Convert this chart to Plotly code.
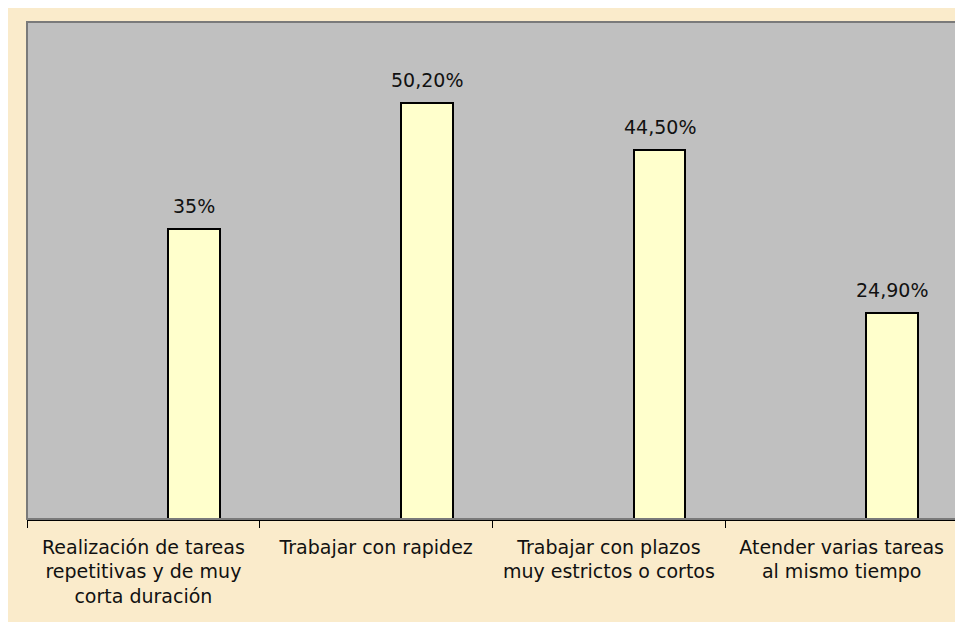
import plotly.graph_objects as go

categories = [
    "Realización de tareas<br>repetitivas y de muy<br>corta duración",
    "Trabajar con rapidez",
    "Trabajar con plazos<br>muy estrictos o cortos",
    "Atender varias tareas<br>al mismo tiempo",
]
values = [35.0, 50.2, 44.5, 24.9]
value_labels = ["35%", "50,20%", "44,50%", "24,90%"]

# the page body adds an 8px margin, figure is sized to the parchment area
W, H = 955, 614
L, T, R, B = 19, 14, 5, 103
FONT = "DejaVu Sans, Liberation Sans, Arial"
BAR_W, BAR_OFF = 0.223, 0.106
cat_px = (W - L - R) / len(categories)

fig = go.Figure()
fig.add_trace(go.Bar(
    x=categories,
    y=values,
    width=BAR_W,
    offset=BAR_OFF,
    marker=dict(color="#FFFFCC", line=dict(color="#000000", width=2)),
    hoverinfo="skip",
))

annotations = [
    dict(x=c, y=v, text=t, showarrow=False, xref="x", yref="y",
         xanchor="center", yanchor="bottom",
         xshift=(BAR_OFF + BAR_W / 2) * cat_px, yshift=10,
         font=dict(family=FONT, size=19, color="#111111"))
    for c, v, t in zip(categories, values, value_labels)
]

shapes = [
    dict(type="rect", xref="paper", yref="paper", layer="above",
         x0=0, x1=1, y0=0, y1=1,
         line=dict(color="#7A7A7A", width=2), fillcolor="rgba(0,0,0,0)"),
]

fig.update_layout(
    width=W, height=H,
    margin=dict(l=L, r=R, t=T, b=B),
    paper_bgcolor="#FAEBCB",
    plot_bgcolor="#C0C0C0",
    showlegend=False,
    shapes=shapes,
    annotations=annotations,
    xaxis=dict(
        showgrid=False, showline=True, linecolor="#000000", linewidth=1.5,
        ticks="outside", ticklen=7, tickcolor="#000000", tickson="boundaries",
        ticklabelstandoff=10,
        tickfont=dict(family=FONT, size=19, color="#111111"),
        fixedrange=True,
    ),
    yaxis=dict(range=[0, 60], visible=False, fixedrange=True),
    bargap=0,
)

fig.write_html("out.html")
